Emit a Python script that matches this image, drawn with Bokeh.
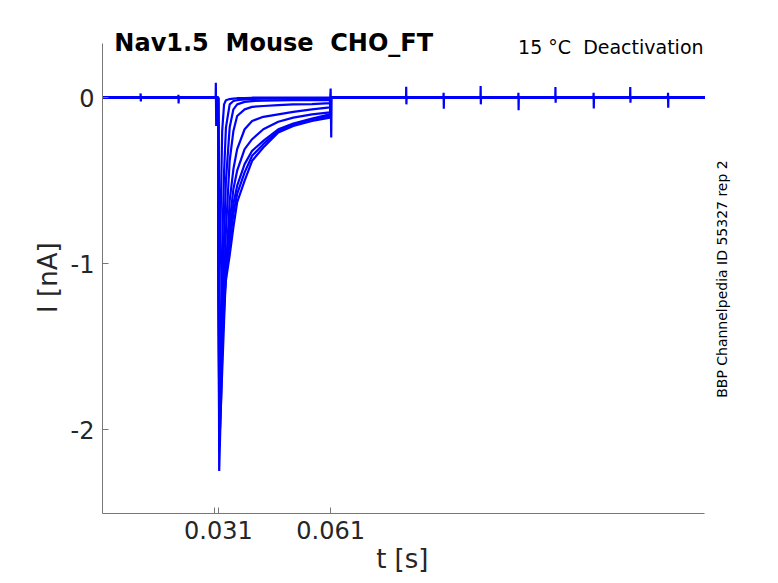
import math
from bokeh.plotting import figure
from bokeh.models import Range1d, FixedTicker, Label
from bokeh.embed import file_html
from bokeh.resources import INLINE

# ---- data ----
# sampling times (s) of the tail current of each sweep
t_tail = [0.0312, 0.0316, 0.0320, 0.0325, 0.0330, 0.0340, 0.0350, 0.0360,
          0.0380, 0.0400, 0.0430, 0.0470, 0.0510, 0.0560, 0.0608]
# currents (nA) of the nine sweeps at those times
i_s1 = [-1.25, -0.70, -0.20, -0.04, -0.015, -0.008, -0.005, -0.003, -0.002, 0.0, 0.0, 0.0, 0.0, 0.0, 0.0]
i_s2 = [-1.85, -1.40, -0.90, -0.45, -0.18, -0.04, -0.02, -0.015, -0.01, -0.008, -0.006, -0.005, -0.005, -0.005, -0.005]
i_s3 = [-2.00, -1.70, -1.30, -0.85, -0.50, -0.18, -0.07, -0.04, -0.025, -0.02, -0.018, -0.016, -0.015, -0.015, -0.015]
i_s4 = [-2.25, -1.90, -1.55, -1.15, -0.80, -0.38, -0.20, -0.11, -0.07, -0.055, -0.05, -0.045, -0.04, -0.038, -0.033]
i_s5 = [-2.10, -1.90, -1.65, -1.35, -1.05, -0.62, -0.43, -0.31, -0.19, -0.14, -0.115, -0.10, -0.085, -0.07, -0.058]
i_s6 = [-1.90, -1.70, -1.50, -1.28, -1.08, -0.75, -0.55, -0.44, -0.31, -0.25, -0.19, -0.145, -0.12, -0.10, -0.088]
i_s7 = [-1.75, -1.52, -1.30, -1.12, -0.98, -0.82, -0.64, -0.53, -0.40, -0.32, -0.26, -0.19, -0.155, -0.125, -0.10]
i_s8 = [-1.62, -1.46, -1.30, -1.16, -1.04, -0.88, -0.70, -0.58, -0.45, -0.35, -0.28, -0.20, -0.16, -0.13, -0.11]
i_s9 = [-1.50, -1.42, -1.32, -1.20, -1.10, -0.95, -0.78, -0.63, -0.50, -0.38, -0.30, -0.21, -0.17, -0.14, -0.12]
sweeps = [i_s1, i_s2, i_s3, i_s4, i_s5, i_s6, i_s7, i_s8, i_s9]

t_start, t_on, t_off, t_end = 0.0, 0.0309, 0.0611, 0.161

# small capacitive artifacts (time, high, low, sweep index)
spike_t = [0.0102, 0.0203, 0.0812, 0.0912, 0.1011, 0.1112, 0.1211, 0.1313, 0.1411, 0.1512]
spike_hi = [0.026, 0.018, 0.066, 0.030, 0.070, 0.030, 0.065, 0.030, 0.065, 0.030]
spike_lo = [-0.022, -0.034, -0.040, -0.066, -0.040, -0.075, -0.030, -0.065, -0.030, -0.060]
spike_sweep = [0, 1, 1, 2, 3, 4, 5, 6, 7, 8]

# large artifacts at the step onset / offset (on sweep 4)
art_t = [0.0303, 0.0304, 0.0610, 0.06115]
art_i = [0.09, -0.17, 0.055, -0.24]
art_sweep = 3

y_lim = (-2.506, 0.325)
y_ticks = [-2, -1, 0]
x_ticks = [0.031, 0.061]
x_minor = [0.0300]

BLUE = "#0000ff"
FONT = "DejaVu Sans"
DARK = "#262626"
NB = "\u00a0"

# the frame spans the canvas up and to the right so that the texts there are not clipped;
# the axis lines are bounded to the data limits
p = figure(width=776, height=583, output_backend="svg", toolbar_location=None,
           x_range=Range1d(0, 0.1802), y_range=Range1d(y_lim[0], 0.586),
           min_border_left=102, min_border_right=0, min_border_top=0, min_border_bottom=70)
p.outline_line_color = None
p.grid.visible = False
p.background_fill_color = "white"
p.border_fill_color = "white"

dt = 0.00005
for k, cur in enumerate(sweeps):
    pts = [(t_start, 0.0), (t_on, 0.0), (t_off + 0.0002, 0.0), (t_end, 0.0)]
    pts += list(zip(t_tail, cur))
    pts.append((t_off, 0.0))
    for ts, hi, lo, sw in zip(spike_t, spike_hi, spike_lo, spike_sweep):
        if sw == k:
            pts += [(ts - dt, 0.0), (ts, hi), (ts + dt, lo), (ts + 2 * dt, 0.0)]
    if k == art_sweep:
        pts += [(art_t[0] - dt, 0.0), (art_t[0], art_i[0]), (art_t[1], art_i[1]), (art_t[1] + 2 * dt, 0.0)]
        pts += [(art_t[2], art_i[2]), (art_t[3], art_i[3])]
        pts = [q for q in pts if q != (t_off, 0.0)]
        pts.append((art_t[3] + 2 * dt, 0.0))
    pts.sort(key=lambda q: q[0])
    p.line([q[0] for q in pts], [q[1] for q in pts], line_color=BLUE, line_width=2.2)

for ax in (p.xaxis, p.yaxis):
    ax.axis_line_color = "#777777"
    ax.axis_line_width = 1
    ax.major_tick_line_color = "#777777"
    ax.minor_tick_line_color = "#777777"
    ax.major_tick_in = 6
    ax.major_tick_out = 0
    ax.minor_tick_in = 6
    ax.minor_tick_out = 0
    ax.major_label_text_font = FONT
    ax.major_label_text_font_size = "24px"
    ax.major_label_text_color = DARK
    ax.axis_label_text_font = FONT
    ax.axis_label_text_font_size = "26px"
    ax.axis_label_text_font_style = "normal"
    ax.axis_label_text_color = DARK

p.xaxis.bounds = (t_start, t_end)
p.yaxis.bounds = y_lim
p.xaxis.ticker = FixedTicker(ticks=x_ticks, minor_ticks=x_minor)
p.xaxis.major_label_overrides = {0.031: "0.031", 0.061: "0.061"}
p.xaxis.major_label_standoff = 7
# trailing no-break spaces centre the visible label on the bounded axis line
p.xaxis.axis_label = "t [s]" + NB * 9
p.xaxis.axis_label_standoff = 2
p.yaxis.ticker = FixedTicker(ticks=y_ticks, minor_ticks=[])
p.yaxis.major_label_overrides = {-2: "-2", -1: "-1", 0: "0"}
p.yaxis.major_label_standoff = 8
p.yaxis.axis_label = "I [nA]" + NB * 5
p.yaxis.axis_label_standoff = 5

p.add_layout(Label(x=0.00317, y=0.3295, text="Nav1.5" + NB + " Mouse" + NB + " CHO_FT", text_font=FONT,
                   text_font_size="24px", text_font_style="bold", text_color="black",
                   text_align="left", text_baseline="alphabetic"))
p.add_layout(Label(x=0.1607, y=0.303, text="15 \u00b0C" + NB + " Deactivation", text_font=FONT,
                   text_font_size="19px", text_color="black",
                   text_align="right", text_baseline="alphabetic"))
p.add_layout(Label(x=0.16569, y=-1.093, text="BBP Channelpedia ID 55327 rep 2", text_font=FONT,
                   text_font_size="14px", text_color="black",
                   text_align="center", text_baseline="alphabetic", angle=math.pi / 2))

open("out.html", "w").write(file_html(p, INLINE))
